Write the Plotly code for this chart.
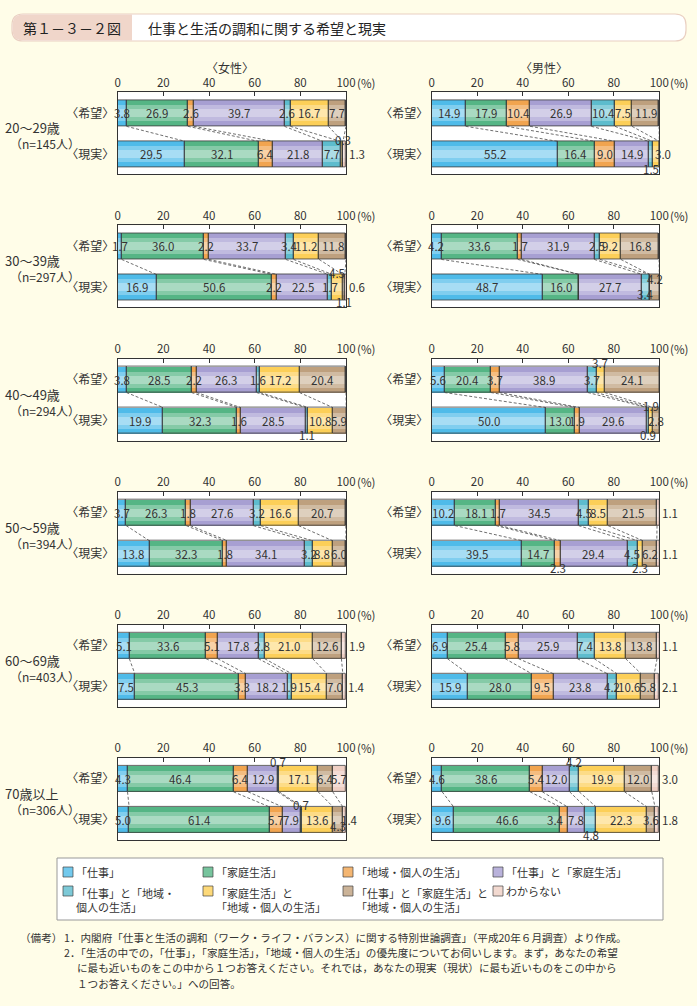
import plotly.graph_objects as go

W, H = 697, 1006

# ---------------- data ----------------
categories = ["「仕事」", "「家庭生活」", "「地域・個人の生活」", "「仕事」と「家庭生活」",
              "「仕事」と「地域・個人の生活」", "「家庭生活」と「地域・個人の生活」",
              "「仕事」と「家庭生活」と「地域・個人の生活」", "わからない"]
legend_labels = ["「仕事」", "「家庭生活」", "「地域・個人の生活」", "「仕事」と「家庭生活」",
                 "「仕事」と「地域・<br>個人の生活」", "「家庭生活」と<br>「地域・個人の生活」",
                 "「仕事」と「家庭生活」と<br>「地域・個人の生活」", "わからない"]
age_labels = ["20～29歳", "30～39歳", "40～49歳", "50～59歳", "60～69歳", "70歳以上"]
n_labels = ["（n=145人）", "（n=297人）", "（n=294人）", "（n=394人）", "（n=403人）", "（n=306人）"]
bar_labels = ["〈希望〉", "〈現実〉"]
gender_labels = ["〈女性〉", "〈男性〉"]
tick_values = [0, 20, 40, 60, 80, 100]

female_hope = [
    [3.8, 26.9, 2.6, 39.7, 2.6, 16.7, 7.7, 0.0],
    [1.7, 36.0, 2.2, 33.7, 3.4, 11.2, 11.8, 0.0],
    [3.8, 28.5, 2.2, 26.3, 1.6, 17.2, 20.4, 0.0],
    [3.7, 26.3, 1.8, 27.6, 3.2, 16.6, 20.7, 0.0],
    [5.1, 33.6, 5.1, 17.8, 2.8, 21.0, 12.6, 1.9],
    [4.3, 46.4, 6.4, 12.9, 0.7, 17.1, 6.4, 5.7],
]
female_real = [
    [29.5, 32.1, 6.4, 21.8, 7.7, 0.9, 0.3, 1.3],
    [16.9, 50.6, 2.2, 22.5, 1.7, 4.5, 1.1, 0.6],
    [19.9, 32.3, 1.6, 28.5, 1.1, 10.8, 5.9, 0.0],
    [13.8, 32.3, 1.8, 34.1, 3.2, 8.8, 6.0, 0.0],
    [7.5, 45.3, 3.3, 18.2, 1.9, 15.4, 7.0, 1.4],
    [5.0, 61.4, 5.7, 7.9, 0.7, 13.6, 4.3, 1.4],
]
male_hope = [
    [14.9, 17.9, 10.4, 26.9, 10.4, 7.5, 11.9, 0.0],
    [4.2, 33.6, 1.7, 31.9, 2.5, 9.2, 16.8, 0.0],
    [5.6, 20.4, 3.7, 38.9, 3.7, 3.7, 24.1, 0.0],
    [10.2, 18.1, 1.7, 34.5, 4.5, 8.5, 21.5, 1.1],
    [6.9, 25.4, 5.8, 25.9, 7.4, 13.8, 13.8, 1.1],
    [4.6, 38.6, 5.4, 12.0, 4.2, 19.9, 12.0, 3.0],
]
male_real = [
    [55.2, 16.4, 9.0, 14.9, 1.5, 3.0, 0.0, 0.0],
    [48.7, 16.0, 0.0, 27.7, 3.4, 0.0, 4.2, 0.0],
    [50.0, 13.0, 1.9, 29.6, 0.9, 1.9, 2.8, 0.0],
    [39.5, 14.7, 2.3, 29.4, 4.5, 2.3, 6.2, 1.1],
    [15.9, 28.0, 9.5, 23.8, 4.2, 10.6, 5.8, 2.1],
    [9.6, 46.6, 3.4, 7.8, 4.8, 22.3, 3.6, 1.8],
]

# ---------------- style ----------------
FONT = "Noto Sans CJK JP"
colors = ["#4fbbe9", "#55b585", "#f1a44f", "#a79fd2", "#5dbccd", "#fccf58", "#bea07e", "#efcfc4"]
BG = "#fffde8"
TXT = "#333333"

X_PIX = [(117.7, 346.0), (431.7, 659.3)]
ROW_TOP0, ROW_STEP, PANEL_H = 92.3, 133.1, 82
UNIT = 41.0
BAR_W = 26 / UNIT
Y_RANGE = [-20 / UNIT, 1 + 21 / UNIT]

# label placements for crowded segments: (bar, index) -> mode
label_overrides = {
    (0, 0): {("r", 5): "hide", ("r", 6): "gap", ("r", 7): "right"},
    (1, 0): {("r", 4): "below", ("r", 5): "edge"},
    (0, 1): {("r", 5): "gap", ("r", 6): "below", ("r", 7): "right"},
    (1, 1): {("r", 4): "lo", ("r", 6): "hi"},
    (0, 2): {("r", 4): "below"},
    (1, 2): {("h", 5): "above", ("r", 4): "below", ("r", 5): "gap"},
    (0, 3): {},
    (1, 3): {("h", 7): "right", ("r", 2): "below", ("r", 5): "below", ("r", 7): "right"},
    (0, 4): {("h", 7): "right", ("r", 7): "right"},
    (1, 4): {("h", 7): "right", ("r", 7): "right"},
    (0, 5): {("h", 4): "above", ("r", 4): "gap", ("r", 6): "lo", ("r", 7): "edge"},
    (1, 5): {("h", 4): "above", ("h", 7): "right", ("r", 2): "left", ("r", 4): "below", ("r", 7): "right"},
}


def pxx(x):
    return x / W


def pyy(y):
    return 1 - y / H


def mix(hexc, t):
    h = hexc.lstrip("#")
    r, g, b = (int(h[i:i + 2], 16) for i in (0, 2, 4))
    r, g, b = (round(c + (255 - c) * t) for c in (r, g, b))
    return f"#{r:02x}{g:02x}{b:02x}"


def cumsum(v):
    out, s = [], 0.0
    for a in v:
        s += a
        out.append(s)
    return out


fig = go.Figure()
layout = {}
annotations = []
shapes = []

data_by_gender = [(female_hope, female_real), (male_hope, male_real)]
YSPAN = Y_RANGE[1] - Y_RANGE[0]

k = 0
for row in range(6):
    top = ROW_TOP0 + ROW_STEP * row
    for g in range(2):
        k += 1
        xa = "x" if k == 1 else f"x{k}"
        ya = "y" if k == 1 else f"y{k}"
        xname = "xaxis" if k == 1 else f"xaxis{k}"
        yname = "yaxis" if k == 1 else f"yaxis{k}"
        hope = data_by_gender[g][0][row]
        real = data_by_gender[g][1][row]
        x0p, x1p = X_PIX[g]
        ch, cr = cumsum(hope), cumsum(real)

        # layered bars: colour, light bands, then outline
        for layer, (wf, tmix) in enumerate([(1.0, 0.0), (0.62, 0.28), (0.3, 0.5)]):
            for i, cat in enumerate(categories):
                fig.add_trace(go.Bar(
                    x=[hope[i], real[i]], base=[ch[i] - hope[i], cr[i] - real[i]],
                    y=[1, 0], orientation="h", width=BAR_W * wf,
                    marker=dict(color=mix(colors[i], tmix), line=dict(width=0)),
                    xaxis=xa, yaxis=ya, showlegend=False, name=cat,
                    hovertemplate="%{x}%<extra>" + cat + "</extra>",
                ))
        for i, cat in enumerate(categories):
            fig.add_trace(go.Bar(
                x=[hope[i], real[i]], base=[ch[i] - hope[i], cr[i] - real[i]],
                y=[1, 0], orientation="h", width=BAR_W,
                marker=dict(color="rgba(0,0,0,0)", line=dict(color="#3a3a3a", width=0.8)),
                xaxis=xa, yaxis=ya, showlegend=False, name=cat, hoverinfo="skip",
            ))

        # dashed connectors between cumulative boundaries
        lx, ly = [], []
        for i in range(7):
            lx += [ch[i], cr[i], None]
            ly += [1 - BAR_W / 2, BAR_W / 2, None]
        fig.add_trace(go.Scatter(
            x=lx, y=ly, mode="lines", xaxis=xa, yaxis=ya, showlegend=False,
            line=dict(color="#4a4a4a", width=0.8, dash="3px,2px"), hoverinfo="skip",
        ))

        # value labels (annotations relative to the axis domains)
        ov = label_overrides.get((g, row), {})
        for bar, vals, cums, yc in (("h", hope, ch, 1), ("r", real, cr, 0)):
            for i, v in enumerate(vals):
                if v <= 0:
                    continue
                mode = ov.get((bar, i), "center")
                if mode == "hide":
                    continue
                xc = cums[i] - v / 2
                yv = yc
                if mode == "above":
                    yv = 1.41
                elif mode == "gap":
                    yv = 0.36
                elif mode == "below":
                    yv = -0.36
                elif mode == "hi":
                    yv = 0.2
                elif mode == "lo":
                    yv = yc - 0.15
                elif mode == "right":
                    xc = 104.8
                elif mode == "edge":
                    xc = 101.6
                elif mode == "left":
                    xc -= 3.5
                annotations.append(dict(
                    x=xc / 100.0, y=(yv - Y_RANGE[0]) / YSPAN,
                    xref=f"{xa} domain", yref=f"{ya} domain", text=f"{v:.1f}", showarrow=False,
                    xanchor="center", yanchor="middle",
                    font=dict(family=FONT, size=11.5, color=TXT)))

        layout[xname] = dict(
            domain=[pxx(x0p), pxx(x1p)], range=[0, 100], side="top", anchor=ya,
            tickvals=tick_values, ticks="inside", ticklen=4, tickcolor="#333",
            showline=True, linecolor="#333", linewidth=1, mirror=True,
            showgrid=False, zeroline=False, fixedrange=True, automargin=False,
            tickfont=dict(family=FONT, size=11.5, color=TXT),
        )
        layout[yname] = dict(
            domain=[pyy(top + PANEL_H), pyy(top)], range=Y_RANGE, anchor=xa,
            tickvals=[1, 0], ticktext=bar_labels, ticks="",
            showline=True, linecolor="#333", linewidth=1, mirror=True,
            showgrid=False, zeroline=False, fixedrange=True, automargin=False,
            tickfont=dict(family=FONT, size=12, color=TXT),
        )
        # (%) unit
        annotations.append(dict(
            x=pxx(x1p + 9), y=pyy(top - 9.5), xref="paper", yref="paper",
            text="(%)", showarrow=False, xanchor="left", yanchor="middle",
            font=dict(family=FONT, size=11.5, color=TXT),
        ))

    # row labels
    annotations.append(dict(
        x=pxx(3), y=pyy(top + 35.5), xref="paper", yref="paper", text=age_labels[row],
        showarrow=False, xanchor="left", yanchor="middle",
        font=dict(family=FONT, size=13, color=TXT)))
    annotations.append(dict(
        x=pxx(8), y=pyy(top + 51.5), xref="paper", yref="paper", text=n_labels[row],
        showarrow=False, xanchor="left", yanchor="middle",
        font=dict(family=FONT, size=12, color=TXT)))

# gender labels
for g in range(2):
    x0p, x1p = X_PIX[g]
    annotations.append(dict(
        x=pxx((x0p + x1p) / 2 - 2), y=pyy(67), xref="paper", yref="paper",
        text=gender_labels[g], showarrow=False, xanchor="center", yanchor="middle",
        font=dict(family=FONT, size=12, color=TXT)))


# ---------------- title bar ----------------
def rpath(x0, y0, x1, y1, r, round_right=True):
    def P(x, y):
        return f"{pxx(x):.5f},{pyy(y):.5f}"
    s = f"M {P(x0 + r, y0)} "
    if round_right:
        s += f"L {P(x1 - r, y0)} Q {P(x1, y0)} {P(x1, y0 + r)} L {P(x1, y1 - r)} Q {P(x1, y1)} {P(x1 - r, y1)} "
    else:
        s += f"L {P(x1, y0)} L {P(x1, y1)} "
    s += f"L {P(x0 + r, y1)} Q {P(x0, y1)} {P(x0, y1 - r)} L {P(x0, y0 + r)} Q {P(x0, y0)} {P(x0 + r, y0)} Z"
    return s


shapes.append(dict(type="path", xref="paper", yref="paper", path=rpath(12, 14, 686, 41, 11),
                   fillcolor="#ffffff", line=dict(color="#ead0c2", width=1.2), layer="below"))
shapes.append(dict(type="path", xref="paper", yref="paper", path=rpath(12.6, 14.6, 132, 40.4, 10.5, False),
                   fillcolor="#f0d6ca", line=dict(width=0), layer="below"))
annotations.append(dict(x=pxx(72), y=pyy(28), xref="paper", yref="paper", text="第１－３－２図",
                        showarrow=False, xanchor="center", yanchor="middle",
                        font=dict(family=FONT, size=14, color="#222")))
annotations.append(dict(x=pxx(146), y=pyy(28), xref="paper", yref="paper",
                        text="仕事と生活の調和に関する希望と現実",
                        showarrow=False, xanchor="left", yanchor="middle",
                        font=dict(family=FONT, size=14, color="#222")))

# ---------------- legend box ----------------
shapes.append(dict(type="rect", xref="paper", yref="paper",
                   x0=pxx(57), x1=pxx(663), y0=pyy(920), y1=pyy(858),
                   fillcolor="#ffffff", line=dict(color="#999999", width=1), layer="below"))
leg_cols = [63, 203, 343, 493]
leg_rows = [872, 891]
for i, lab in enumerate(legend_labels):
    cx = leg_cols[i % 4]
    cy = leg_rows[i // 4]
    shapes.append(dict(type="rect", xref="paper", yref="paper",
                       x0=pxx(cx), x1=pxx(cx + 10), y0=pyy(cy + 5), y1=pyy(cy - 5),
                       fillcolor=mix(colors[i], 0.2), line=dict(color="#444", width=0.7)))
    two = "<br>" in lab
    annotations.append(dict(
        x=pxx(cx + 11), y=pyy(cy - 8.5) if two else pyy(cy), xref="paper", yref="paper",
        text=lab, showarrow=False, xanchor="left", yanchor="top" if two else "middle",
        align="left", font=dict(family=FONT, size=11, color=TXT)))

# ---------------- notes ----------------
notes = [
    (18, 937, "（備考）"),
    (62, 937, "1．内閣府「仕事と生活の調和（ワーク・ライフ・バランス）に関する特別世論調査」（平成20年６月調査）より作成。"),
    (62, 952, "2．「生活の中での，「仕事」，「家庭生活」，「地域・個人の生活」の優先度についてお伺いします。まず，あなたの希望"),
    (75, 967, "に最も近いものをこの中から１つお答えください。それでは，あなたの現実（現状）に最も近いものをこの中から"),
    (75, 983, "１つお答えください。」への回答。"),
]
for x, y, t in notes:
    annotations.append(dict(x=pxx(x), y=pyy(y), xref="paper", yref="paper", text=t,
                            showarrow=False, xanchor="left", yanchor="middle",
                            font=dict(family=FONT, size=10.6, color=TXT)))

fig.update_layout(
    width=W, height=H, autosize=False,
    margin=dict(l=0, r=0, t=0, b=0, autoexpand=False),
    paper_bgcolor=BG, plot_bgcolor="#ffffff",
    barmode="overlay", bargap=0, showlegend=False,
    font=dict(family=FONT, color=TXT),
    annotations=annotations, shapes=shapes,
    **layout,
)

fig.write_html(
    "out.html",
    config={"displayModeBar": False},
    post_script="document.body.style.margin='0';document.body.style.overflow='hidden';",
)
